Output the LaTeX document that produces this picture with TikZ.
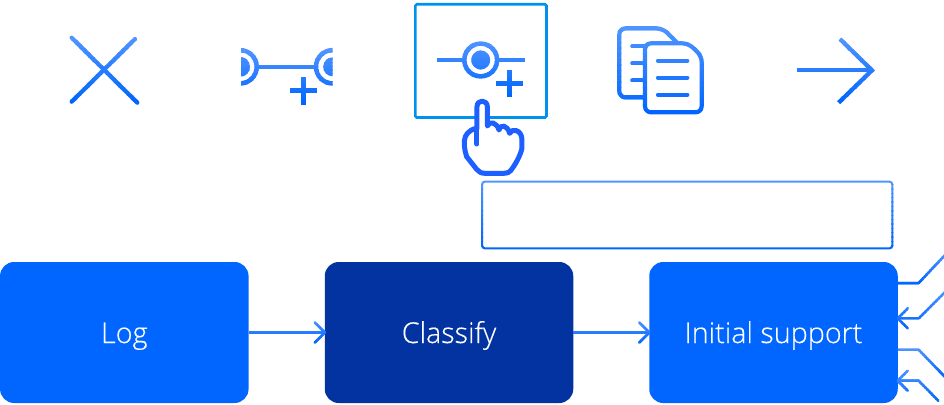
\documentclass[tikz,border=0pt]{standalone}
\usepackage{fontspec}
\setmainfont{Open Sans Light}
\usetikzlibrary{arrows.meta}
\definecolor{gtop}{HTML}{5094FF}
\definecolor{gbot}{HTML}{0066FF}
\definecolor{boxblue}{HTML}{0066FF}
\definecolor{boxnavy}{HTML}{0233A0}
\definecolor{selblue}{HTML}{0091EE}
\definecolor{handblue}{HTML}{1E5FFF}
\newcommand{\gradband}[3]{%
  \foreach \i in {0,...,15}{%
    \pgfmathsetmacro\ya{#1+(#2-#1)*\i/16}%
    \pgfmathsetmacro\yb{#1+(#2-#1)*(\i+1)/16+0.4}%
    \pgfmathsetmacro\pct{100*\i/15}%
    \colorlet{gc}{gbot!\pct!gtop}%
    \begin{scope}
      \clip (-10,\ya) rectangle (960,\yb);
      #3
    \end{scope}%
  }}
\newcommand{\boxtext}[1]{\raisebox{-10.5pt}[0pt][0pt]{\addfontfeature{FakeBold=0.3}#1}}
\tikzset{
  iconline/.style={draw=gc,line width=4.2pt},
  procbox/.style={rectangle,rounded corners=14pt,minimum width=248.5pt,minimum height=141pt,inner sep=0pt,text=white,font=\fontsize{28.7}{34}\selectfont},
  flowline/.style={draw=gc,line width=2.5pt},
  flowtip/.style={flowline,-{Straight Barb[length=10pt,width=20pt,line width=2.5pt,round]},shorten >=-1.5pt}
}
\begin{document}
\begin{tikzpicture}[x=1pt,y=-1pt]
\useasboundingbox (0,0) rectangle (944,404);
\clip (0,0) rectangle (944,404);

% process boxes
\node[procbox,fill=boxblue] (log) at (124.3,332.5) {\boxtext{Log}};
\node[procbox,fill=boxnavy] (classify) at (449,332.5) {\boxtext{Classify}};
\node[procbox,fill=boxblue] (init) at (773.5,332.5) {\boxtext{Initial support}};

% free ends of the connectors
\coordinate (b1) at (918.7,283);
\coordinate (e1) at (946,254);
\coordinate (b2) at (918.7,318.3);
\coordinate (e2) at (946,291);
\coordinate (b3) at (918.7,349.7);
\coordinate (e3) at (946,378);
\coordinate (b4) at (918.7,380.7);
\coordinate (e4) at (938.3,400.7);

% connectors
\gradband{320}{345}{
  \draw[flowtip] (log.east) -- (classify.west);
  \draw[flowtip] (classify.east) -- (init.west);
}
\gradband{252}{286}{
  \draw[flowline,line join=round] (init.east |- b1) -- (b1) -- (e1);
}
\gradband{288}{332}{
  \draw[flowtip,line join=round] (e2) -- (b2) -- (init.east |- b2);
}
\gradband{347}{380}{
  \draw[flowline,line join=round] (init.east |- b3) -- (b3) -- (e3);
}
\gradband{368}{404}{
  \draw[flowtip,line join=round,line cap=round] (e4) -- (b4) -- (init.east |- b4);
}

% empty text box
\gradband{180}{250}{
  \draw[draw=gc,line width=2pt,rounded corners=3pt] (482,181.6) rectangle (892.4,248.4);
}

% X icon
\gradband{36}{104}{\draw[iconline,line cap=round] (71.7,37.7) -- (137.3,102.7);
  \draw[iconline,line cap=round] (135,39) -- (71.7,101.7);}

% connector icon
\gradband{48}{106}{
  \begin{scope}
    \clip (241,40) rectangle (332.7,110);
    \draw[iconline,line width=4.5pt] (240,66.8) circle (16.7);
    \draw[iconline,line width=4.5pt] (332.7,66.8) circle (16.7);
    \fill[gc] (240,66.8) circle (10);
    \fill[gc] (332.7,66.8) circle (9.5);
  \end{scope}
  \draw[iconline] (258,66.7) -- (315,66.7);
  \draw[iconline,line width=4.5pt] (290,90.7) -- (317.3,90.7);
  \draw[iconline,line width=4.5pt] (303.7,77.3) -- (303.7,104.7);
}

% selected icon frame
\draw[selblue,line width=2.6pt,rounded corners=1.5pt] (415.3,4.3) rectangle (546.5,117.5);
\gradband{40}{98}{
  \draw[iconline] (436.7,60) -- (462,60);
  \draw[iconline] (499,60) -- (525,60);
  \draw[iconline,line width=4.5pt] (480.7,60) circle (16.4);
  \fill[gc] (480.7,60) circle (9.5);
  \draw[iconline,line width=4.5pt] (496,83.3) -- (523.3,83.3);
  \draw[iconline,line width=4.5pt] (509.7,70) -- (509.7,97);
}

% hand
\begin{scope}[shift={(400,0)},x=0.3333pt,y=-0.3333pt]
  \draw[handblue,fill=white,line width=5pt,line join=round,line cap=round]
    (231,385) -- (231,320)
    .. controls (231,298) and (262,298) .. (262,320)
    -- (262,378)
    .. controls (268,362) and (290,366) .. (297,390)
    .. controls (300,372) and (322,374) .. (329,400)
    .. controls (334,384) and (366,388) .. (366,420)
    -- (366,445)
    .. controls (360,470) and (345,495) .. (332,512)
    .. controls (328,518) and (320,520) .. (312,520)
    -- (255,520)
    .. controls (244,520) and (236,516) .. (230,508)
    -- (200,470)
    .. controls (193,450) and (190,425) .. (196,410)
    .. controls (202,395) and (220,385) .. (231,385)
    -- cycle;
  \draw[handblue,line width=5pt,line cap=round] (231,385) -- (231,432);
\end{scope}

% documents icon
\gradband{25}{116}{
  \begin{scope}[shift={(600,10)},x=0.3333pt,y=-0.3333pt]
    \draw[iconline,rounded corners=6pt] (135,262) -- (58,262) -- (58,55) -- (188,55) -- (230,97);
    \draw[iconline,line cap=round] (97,108) -- (135,108);
    \draw[iconline,line cap=round] (97,159) -- (135,159);
    \draw[iconline,line cap=round] (97,211) -- (135,211);
    \draw[iconline,fill=white,rounded corners=6pt,line join=round] (135,100) -- (265,100) -- (305,138) -- (305,307) -- (135,307) -- cycle;
    \draw[iconline,line cap=round] (174,152) -- (262,152);
    \draw[iconline,line cap=round] (174,203) -- (262,203);
    \draw[iconline,line cap=round] (174,254) -- (262,254);
  \end{scope}
}

% arrow icon
\gradband{37}{105}{
  \begin{scope}[shift={(600,10)},x=0.3333pt,y=-0.3333pt]
    \draw[iconline] (590,181) -- (815,181);
    \draw[iconline,line join=miter] (720,87) -- (816,181) -- (716,278);
  \end{scope}
}
\end{tikzpicture}
\end{document}
